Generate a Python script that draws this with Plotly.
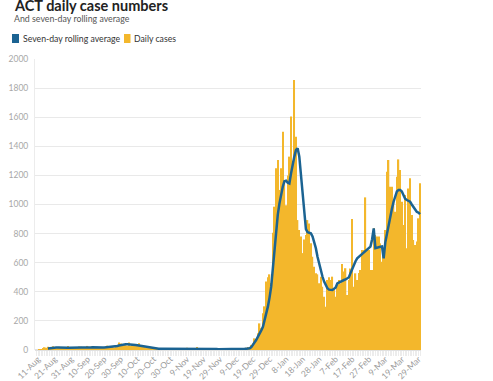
import pandas as pd
import plotly.graph_objects as go

START_DATE = "2021-08-11"
AVG_START_DATE = "2021-08-17"

daily_aug = [0, 2, 6, 13, 19, 16, 22, 12, 20, 25, 18, 14, 15, 22, 10, 14, 20, 21, 28, 12, 11]
daily_sep = [13, 15, 17, 18, 24, 22, 16, 9, 13, 28, 11, 22, 25, 17, 15, 22, 20, 18, 17, 18,
             21, 30, 13, 19, 25, 18, 27, 35, 52, 45]
daily_oct = [32, 28, 37, 30, 52, 28, 35, 38, 38, 33, 46, 28, 30, 25, 18, 21, 14, 20, 13, 11,
             8, 12, 9, 6, 10, 8, 5, 7, 9, 6, 4]
daily_nov = [8, 5, 12, 6, 9, 11, 4, 7, 15, 10, 6, 8, 12, 9, 20, 14, 10, 8, 9, 13,
             11, 7, 6, 10, 8, 5, 4, 7, 3, 5]
daily_dec = [2, 3, 1, 4, 2, 5, 3, 2, 6, 4, 7, 9, 12, 10, 15, 21,
             20, 35, 45, 80, 70, 115, 183, 150, 252, 300, 470, 500, 520, 460, 806]
daily_jan = [985, 1249, 1306, 1100, 1250, 1500, 1168, 995, 1200, 1329, 1604, 1300, 1856, 1466,
             893, 825, 780, 666, 760, 790, 893, 870, 733, 641, 573, 527, 520, 458, 504, 435, 366]
daily_feb = [298, 481, 500, 481, 504, 415, 366, 458, 481, 458, 591, 539, 562, 378, 481, 560,
             900, 435, 527, 481, 530, 550, 687, 687, 1049, 687, 687, 550]
daily_mar = [550, 836, 790, 780, 780, 733, 607, 650, 825, 1225, 1306, 1122, 1122, 1019, 950,
             1191, 1310, 1237, 1019, 859, 1065, 699, 1110, 1180, 927, 756, 722, 745, 905, 1146]

avg_aug = [11, 13, 14, 15, 16, 17, 17, 16, 16, 16, 17, 17, 16, 16, 17]
avg_sep = [17, 17, 16, 16, 17, 18, 18, 17, 17, 18, 18, 18, 19, 18, 18, 19, 19, 19, 18, 18,
           19, 20, 20, 21, 22, 23, 25, 28, 31, 34]
avg_oct = [36, 38, 39, 39, 39, 38, 37, 35, 34, 32, 30, 28, 26, 24, 22, 19, 17, 15, 13, 12,
           11, 10, 9, 9, 9, 8, 8, 8, 8, 8, 8]
avg_nov = [8, 8, 8, 9, 9, 9, 9, 10, 10, 10, 10, 10, 11, 11, 12, 12, 12, 11, 11, 11,
           11, 10, 10, 9, 8, 8, 7, 6, 6, 5]
avg_dec = [5, 4, 4, 3, 3, 3, 3, 4, 4, 5, 5, 6, 7, 8, 9, 10,
           12, 20, 35, 50, 70, 92, 110, 135, 160, 200, 250, 298, 360, 435, 560]
avg_jan = [700, 847, 930, 1008, 1070, 1122, 1160, 1164, 1150, 1145, 1214, 1280, 1329, 1375, 1386,
           1329, 1200, 1050, 916, 830, 810, 805, 802, 780, 745, 700, 641, 590, 550, 505, 470]
avg_feb = [440, 424, 415, 412, 412, 420, 430, 458, 465, 470, 478, 481, 485, 490, 500, 530,
           560, 580, 610, 630, 640, 650, 660, 664, 680, 690, 700, 710]
avg_mar = [760, 836, 700, 705, 708, 710, 712, 630, 740, 800, 870, 916, 970, 1019, 1060, 1090,
           1100, 1100, 1090, 1065, 1040, 1031, 1025, 1019, 1000, 985, 965, 950, 945, 934]

y_ticks = [0, 200, 400, 600, 800, 1000, 1200, 1400, 1600, 1800, 2000]

daily = daily_aug + daily_sep + daily_oct + daily_nov + daily_dec + daily_jan + daily_feb + daily_mar
avg = avg_aug + avg_sep + avg_oct + avg_nov + avg_dec + avg_jan + avg_feb + avg_mar
dates = pd.date_range(START_DATE, periods=len(daily), freq="D")
avg_dates = pd.date_range(AVG_START_DATE, periods=len(avg), freq="D")

BAR_COLOR = "#F3B72C"
LINE_COLOR = "#1B6392"
FONT = "Lato"

fig = go.Figure()
fig.add_trace(go.Bar(x=dates, y=daily, marker=dict(color=BAR_COLOR, line=dict(width=0)),
                     name="Daily cases", showlegend=False))
fig.add_trace(go.Scatter(x=avg_dates, y=avg, mode="lines", line=dict(color=LINE_COLOR, width=2.5),
                         name="Seven-day rolling average", showlegend=False))

L, T, W, H = 35, 59, 386, 291


def px(xp):
    return (xp - L) / W


def py(yp):
    return (T + H - yp) / H


annotations = [
    dict(text="<b>ACT daily case numbers</b>", x=px(12), y=py(6), xanchor="left", yanchor="middle",
         font=dict(size=14.5, color="#222222", family=FONT)),
    dict(text="And seven-day rolling average", x=px(12), y=py(18.5), xanchor="left", yanchor="middle",
         font=dict(size=8.8, color="#555555", family=FONT)),
    dict(text="Seven-day rolling average", x=px(21), y=py(38.5), xanchor="left", yanchor="middle",
         font=dict(size=8.7, color="#333333", family=FONT)),
    dict(text="Daily cases", x=px(131.5), y=py(38.5), xanchor="left", yanchor="middle",
         font=dict(size=8.7, color="#333333", family=FONT)),
]
for a in annotations:
    a.update(xref="paper", yref="paper", showarrow=False)

shapes = [
    dict(type="rect", x0=px(12), x1=px(19), y0=py(43), y1=py(34), fillcolor=LINE_COLOR, line=dict(width=0)),
    dict(type="rect", x0=px(124), x1=px(130.5), y0=py(43), y1=py(34), fillcolor=BAR_COLOR, line=dict(width=0)),
]
for s in shapes:
    s.update(xref="paper", yref="paper", layer="above")

fig.update_layout(
    width=493, height=381,
    margin=dict(l=L, r=493 - L - W, t=T, b=381 - T - H, autoexpand=False),
    paper_bgcolor="white", plot_bgcolor="white",
    bargap=0.18,
    font=dict(family=FONT, size=9, color="#999999"),
    annotations=annotations, shapes=shapes,
    showlegend=False, hovermode=False,
)
fig.update_xaxes(
    type="date",
    range=["2021-08-09 04:30", "2022-03-30 14:00"],
    tick0=START_DATE, dtick=10 * 86400000, tickformat="%-d-%b", tickangle=-45,
    ticks="outside", ticklen=5, tickcolor="#ececec", tickwidth=1,
    minor=dict(dtick=86400000, tick0=START_DATE, ticks="outside", ticklen=5, tickcolor="#ececec", tickwidth=1),
    tickfont=dict(size=8.5, color="#9a9a9a", family=FONT), ticklabelstandoff=-5,
    showgrid=False, showline=False, zeroline=False,
)
fig.update_yaxes(
    range=[0, 2000], tickvals=y_ticks,
    gridcolor="#e9e9e9", gridwidth=1, zeroline=True, zerolinecolor="#e0e0e0",
    showline=True, linecolor="#ececec", linewidth=1,
    tickfont=dict(size=8.5, color="#a8a8a8", family=FONT), ticks="", ticklabelstandoff=4,
)

fig.write_html("out.html", config={"displayModeBar": False},
               post_script="document.body.style.margin='0';document.body.style.overflow='hidden';")
